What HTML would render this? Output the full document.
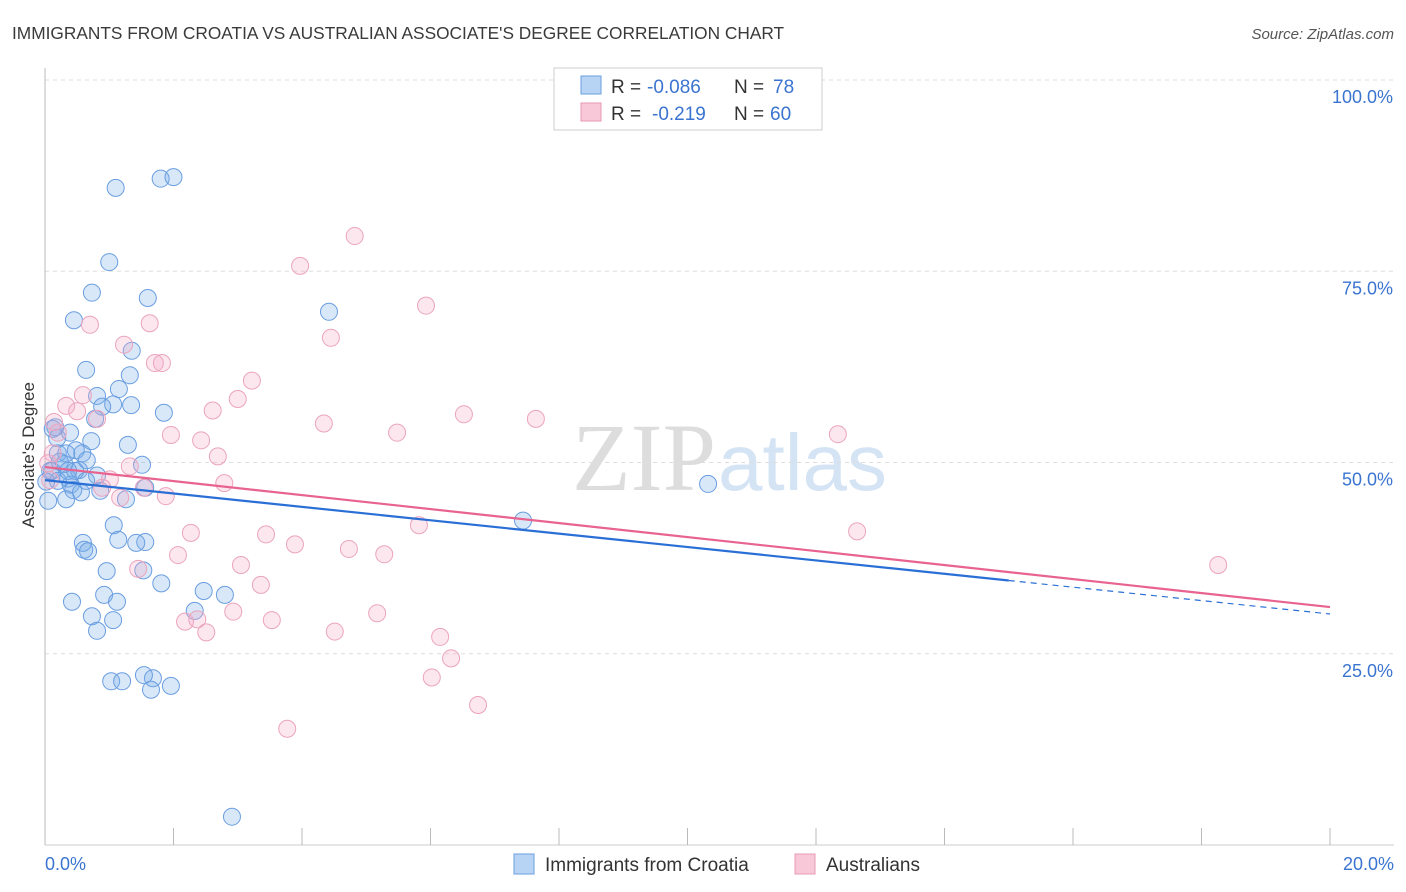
<!DOCTYPE html>
<html><head><meta charset="utf-8"><style>
body{margin:0;background:#fff;font-family:"Liberation Sans",sans-serif;}
</style></head><body>
<svg id="c" width="1406" height="892" xmlns="http://www.w3.org/2000/svg" style="position:absolute;left:0;top:0">
<text x="12" y="39" font-size="17.3" fill="#3a3a3a">IMMIGRANTS FROM CROATIA VS AUSTRALIAN ASSOCIATE'S DEGREE CORRELATION CHART</text>
<text x="1394" y="39" font-size="15" font-style="italic" fill="#555" text-anchor="end">Source: ZipAtlas.com</text>
<text x="716" y="490" font-size="96" font-family="Liberation Serif,serif" fill="#ddd" text-anchor="end">ZIP</text>
<text x="718" y="490" font-size="80" fill="#d4e4f4">atlas</text>
<g id="grid"></g><g id="pts"></g><g id="lines"></g>
<text x="34" y="455" font-size="17" fill="#333" text-anchor="middle" transform="rotate(-90 34 455)">Associate's Degree</text>
<text x="45" y="870" font-size="18" fill="#3a74d0">0.0%</text>
<text x="1394" y="870" font-size="18" fill="#3a74d0" text-anchor="end">20.0%</text>
<g>
<rect x="554" y="68" width="268" height="62" fill="#fff" stroke="#ccc"/>
<rect x="581" y="76" width="20" height="18" fill="#b8d4f4" stroke="#6a9ee0"/>
<rect x="581" y="103" width="20" height="18" fill="#f8c8d8" stroke="#e898b4"/>
<text x="611" y="93" font-size="19" fill="#333">R =</text><text x="647" y="93" font-size="19" fill="#3a74d0">-0.086</text>
<text x="734" y="93" font-size="19" fill="#333">N =</text><text x="773" y="93" font-size="19" fill="#3a74d0">78</text>
<text x="611" y="120" font-size="19" fill="#333">R =</text><text x="652" y="120" font-size="19" fill="#3a74d0">-0.219</text>
<text x="734" y="120" font-size="19" fill="#333">N =</text><text x="770" y="120" font-size="19" fill="#3a74d0">60</text>
</g>
<g>
<rect x="514" y="854" width="20" height="20" fill="#b8d4f4" stroke="#6a9ee0"/>
<text x="545" y="871" font-size="19" fill="#333">Immigrants from Croatia</text>
<rect x="795" y="854" width="20" height="20" fill="#f8c8d8" stroke="#e898b4"/>
<text x="826" y="871" font-size="19" fill="#333">Australians</text>
</g>
</svg>
<script>
const yTicks=[25,50,75,100];
const yTickLabels=["25.0%","50.0%","75.0%","100.0%"];
const bX=[1.1,1.8,2.0,1.0,0.73,1.6,0.45,4.42,1.35,0.64,1.32,1.15,0.81,1.06,1.34,0.89,1.85,0.78,0.12,0.39,0.19,0.72,1.29,0.48,0.58,0.2,0.65,0.3,1.51,0.53,0.08,0.81,0.36,0.2,0.02,1.56,0.4,0.44,0.56,0.33,1.26,10.32,7.44,1.07,1.14,1.56,1.42,0.59,0.61,0.67,0.96,1.53,1.81,2.47,2.8,0.92,0.42,1.12,2.33,0.73,1.06,0.81,1.03,1.2,1.68,1.96,1.54,1.65,2.91,0.33,0.47,0.11,0.05,0.23,0.16,0.64,0.86,0.36];
const bY=[85.9,87.1,87.3,76.2,72.2,71.5,68.6,69.7,64.6,62.1,61.4,59.6,58.7,57.6,57.5,57.3,56.5,55.7,54.4,53.9,53.2,52.8,52.3,51.6,51.2,51.2,50.3,49.8,49.7,49.0,48.9,48.3,47.9,47.6,47.5,46.7,47.1,46.4,46.1,45.2,45.2,47.2,42.4,41.8,39.9,39.6,39.5,39.5,38.6,38.4,35.8,35.9,34.2,33.2,32.7,32.7,31.8,31.8,30.6,29.9,29.4,28.0,21.4,21.4,21.8,20.8,22.2,20.3,3.7,51.2,48.9,48.9,45.0,50.1,54.6,47.6,46.3,48.9];
const pX=[4.82,3.97,5.93,0.7,1.63,4.45,1.23,1.71,1.82,3.22,3.0,0.59,0.33,0.5,2.61,0.81,6.52,7.64,4.34,1.96,5.48,12.34,2.43,0.2,2.69,0.12,0.05,1.32,2.79,1.01,0.89,1.54,1.17,1.88,0.08,5.82,2.27,12.64,3.44,3.89,2.07,4.73,5.28,3.05,1.45,3.36,2.93,5.17,2.18,2.37,3.53,2.51,4.51,6.15,6.32,6.02,6.74,3.77,18.26,0.14];
const pY=[79.6,75.7,70.5,68.0,68.2,66.3,65.4,63.0,63.0,60.7,58.3,58.8,57.4,56.7,56.8,55.7,56.3,55.7,55.1,53.6,53.9,53.7,52.9,53.9,50.8,51.2,49.9,49.5,47.3,47.8,46.7,46.7,45.4,45.6,47.7,41.8,40.8,41.0,40.6,39.3,37.9,38.7,38.0,36.6,36.1,34.0,30.5,30.3,29.2,29.5,29.4,27.8,27.9,27.2,24.4,21.9,18.3,15.2,36.6,55.3];
const blueLine=[47.7,30.2],pinkLine=[49.4,31.1],blueSolidEnd=15.0;
const xs=v=>45+v/20*1285, ys=v=>845-v*7.65;
const NS="http://www.w3.org/2000/svg";
function mk(t,a,p){const e=document.createElementNS(NS,t);for(const k in a)e.setAttribute(k,a[k]);p.appendChild(e);return e;}
const g=document.getElementById('grid');
yTicks.forEach((t,i)=>{
 const l=mk('line',{x1:45,x2:1394,y1:ys(t),y2:ys(t),stroke:'#ddd','stroke-dasharray':'4,4'},g);
 
 
 const tx=mk('text',{x:1393,y:ys(t)+23,'font-size':18,fill:'#3a74d0','text-anchor':'end'},g);
 tx.textContent=yTickLabels[i];
 
 
});
const ax=mk('line',{x1:45,x2:45,y1:68,y2:845,stroke:'#bbb'},g);


const bx=mk('line',{x1:45,x2:1394,y1:845,y2:845,stroke:'#ccc'},g);


for(let i=0;i<=20;i+=2){const t=mk('line',{x1:xs(i),x2:xs(i),y1:828,y2:845,stroke:'#bbb'},g);
 
 }
const P=document.getElementById('pts');
bX.forEach((x,i)=>{const c=mk('circle',{cx:xs(x),cy:ys(bY[i]),r:8.5,fill:'rgba(120,172,235,0.28)',stroke:'#6a9ee0','stroke-width':1},P);
 
 });
pX.forEach((x,i)=>{const c=mk('circle',{cx:xs(x),cy:ys(pY[i]),r:8.5,fill:'rgba(244,168,196,0.28)',stroke:'#eba4bd','stroke-width':1},P);
 
 });
const L=document.getElementById('lines');
const by=x=>blueLine[0]+(blueLine[1]-blueLine[0])*x/20;
let a=mk('line',{x1:xs(0),y1:ys(by(0)),x2:xs(blueSolidEnd),y2:ys(by(blueSolidEnd)),stroke:'#2a6fd6','stroke-width':2.2},L);


a=mk('line',{x1:xs(blueSolidEnd),y1:ys(by(blueSolidEnd)),x2:xs(20),y2:ys(by(20)),stroke:'#2a6fd6','stroke-width':1.2,'stroke-dasharray':'6,5'},L);


a=mk('line',{x1:xs(0),y1:ys(pinkLine[0]),x2:xs(20),y2:ys(pinkLine[1]),stroke:'#e8638f','stroke-width':2.2},L);


</script>
</body></html>
